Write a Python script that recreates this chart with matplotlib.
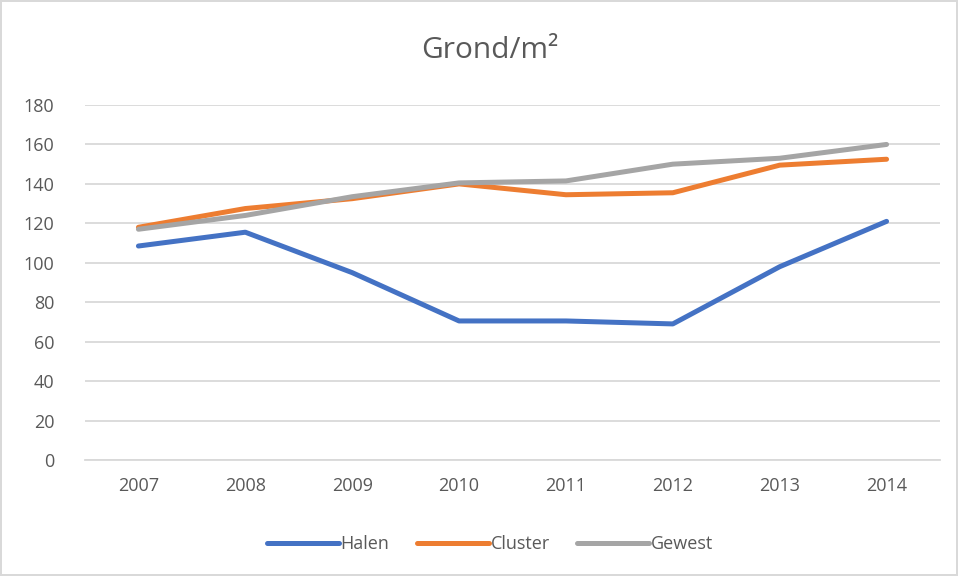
import matplotlib.pyplot as plt
import numpy as np

years = ["2007", "2008", "2009", "2010", "2011", "2012", "2013", "2014"]
halen = [108.5, 115.5, 95, 70.5, 70.5, 69, 98, 121]
cluster = [118, 127.5, 132.5, 140, 134.5, 135.5, 149.5, 152.5]
gewest = [117, 124, 133.5, 140.5, 141.5, 150, 153, 160]

plt.rcParams["font.family"] = ["Open Sans", "DejaVu Sans"]
txt = "#595959"

fig = plt.figure(figsize=(9.58, 5.76), dpi=100)
fig.patch.set_edgecolor("#d9d9d9")
fig.patch.set_linewidth(1.5)
ax = fig.add_axes([85 / 958, 1 - 460 / 576, 855 / 958, 355 / 576])

x = np.arange(len(years))
ax.plot(x, halen, color="#4472C4", lw=3.6, solid_capstyle="round", label="Halen")
ax.plot(x, cluster, color="#ED7D31", lw=3.6, solid_capstyle="round", label="Cluster")
ax.plot(x, gewest, color="#A5A5A5", lw=3.6, solid_capstyle="round", label="Gewest")

ax.set_xlim(-0.5, 7.5)
ax.set_ylim(0, 180)
ax.set_yticks(range(0, 181, 20))
ax.set_xticks(x, years)
ax.grid(axis="y", color="#d9d9d9", lw=1.3)
ax.set_axisbelow(True)
for s in ["top", "right", "left"]:
    ax.spines[s].set_visible(False)
ax.spines["bottom"].set_color("#d9d9d9")
ax.spines["bottom"].set_linewidth(1.3)
ax.tick_params(length=0, labelsize=13, colors=txt, pad=12)
ax.tick_params(axis="y", pad=22)

fig.text(490 / 958, 1 - 51 / 576, "Grond/m²", ha="center", va="center",
         fontsize=21.5, color=txt)

fig.legend(loc="center", bbox_to_anchor=(490 / 958, 1 - 544 / 576), ncol=3,
           frameon=False, fontsize=13, labelcolor=txt, handlelength=4,
           handletextpad=0.1, columnspacing=1.5)

fig.savefig("out.png", dpi=100)
